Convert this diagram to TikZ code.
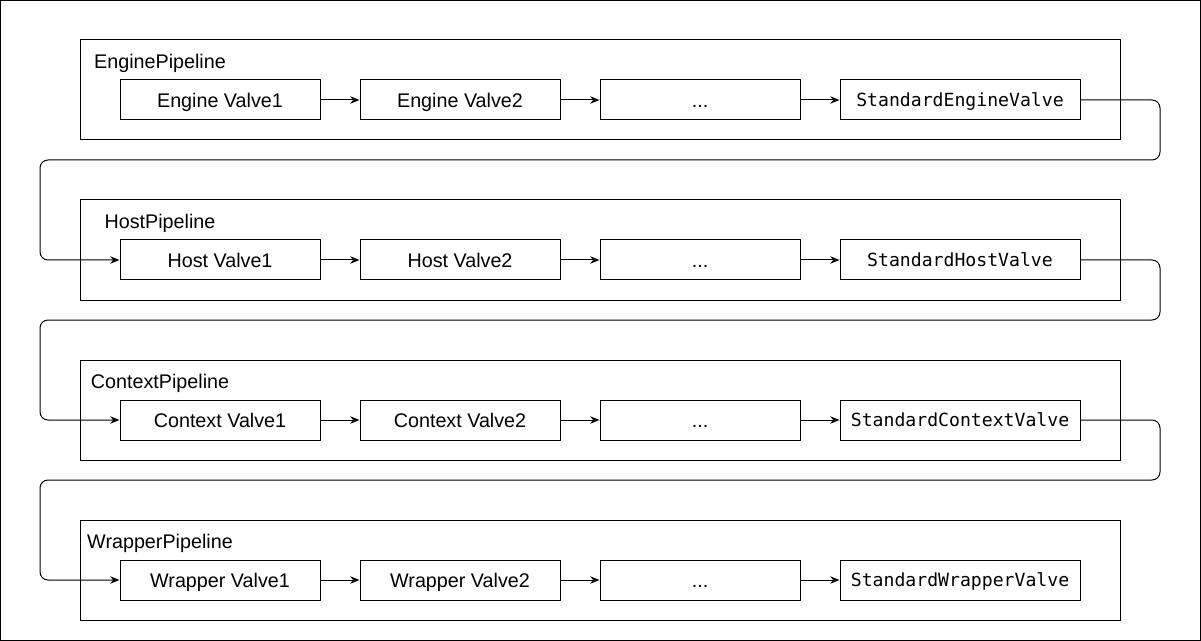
\documentclass[tikz,border=0pt]{standalone}
\usepackage{fontspec}
\setmainfont{Liberation Sans}
\setmonofont{DejaVu Sans Mono}
\usetikzlibrary{arrows.meta}

\begin{document}
\begin{tikzpicture}[x=0.75pt,y=-0.75pt,line width=0.75pt,>={Stealth[length=7pt,width=5.5pt]},
  pipe/.style ={rectangle, draw, minimum width=780pt, minimum height=75pt, inner sep=0pt},
  valve/.style ={rectangle, draw, fill=white, minimum width=150pt, minimum height=30pt, inner sep=0pt, text height=10.6pt, text depth=0pt, font=\fontsize{14.8}{16}\selectfont},
  stdvalve/.style ={valve, minimum width=180pt, text height=9.9pt, font=\fontsize{13.6}{16}\selectfont\ttfamily},
  lbl/.style ={font=\fontsize{14.8}{16}\selectfont, inner sep=0pt, text height=10.6pt, text depth=0pt}]
\useasboundingbox (0,0) rectangle (1201,641);
\draw (0.5,0.5) rectangle (1200.5,640.5);
% pipelines
\draw (600,90) node[pipe] (EngPipe) {};
\draw (600,250) node[pipe] (HostPipe) {};
\draw (600,410) node[pipe] (CtxPipe) {};
\draw (600,570) node[pipe] (WrapPipe) {};
\draw (160,61) node[lbl] (EngLbl) {EnginePipeline};
\draw (160,221) node[lbl] (HostLbl) {HostPipeline};
\draw (160,381) node[lbl] (CtxLbl) {ContextPipeline};
\draw (160,541) node[lbl] (WrapLbl) {WrapperPipeline};
% engine
\draw (220,100) node[valve] (EngV1) {Engine Valve1};
\draw (460,100) node[valve] (EngV2) {Engine Valve2};
\draw (700,100) node[valve] (EngDots) {...};
\draw (960,100) node[stdvalve] (EngStd) {StandardEngineValve};
% host
\draw (220,260) node[valve] (HostV1) {Host Valve1};
\draw (460,260) node[valve] (HostV2) {Host Valve2};
\draw (700,260) node[valve] (HostDots) {...};
\draw (960,260) node[stdvalve] (HostStd) {StandardHostValve};
% context
\draw (220,420) node[valve] (CtxV1) {Context Valve1};
\draw (460,420) node[valve] (CtxV2) {Context Valve2};
\draw (700,420) node[valve] (CtxDots) {...};
\draw (960,420) node[stdvalve] (CtxStd) {StandardContextValve};
% wrapper
\draw (220,580) node[valve] (WrapV1) {Wrapper Valve1};
\draw (460,580) node[valve] (WrapV2) {Wrapper Valve2};
\draw (700,580) node[valve] (WrapDots) {...};
\draw (960,580) node[stdvalve] (WrapStd) {StandardWrapperValve};

\draw [->] (EngV1) -- (EngV2);
\draw [->] (EngV2) -- (EngDots);
\draw [->] (EngDots) -- (EngStd);
\draw [->] (HostV1) -- (HostV2);
\draw [->] (HostV2) -- (HostDots);
\draw [->] (HostDots) -- (HostStd);
\draw [->] (CtxV1) -- (CtxV2);
\draw [->] (CtxV2) -- (CtxDots);
\draw [->] (CtxDots) -- (CtxStd);
\draw [->] (WrapV1) -- (WrapV2);
\draw [->] (WrapV2) -- (WrapDots);
\draw [->] (WrapDots) -- (WrapStd);

% links between pipelines
\draw [->, rounded corners=6pt] (EngStd.east) -- (1160,100) |- (40,160) |- (HostV1.west);
\draw [->, rounded corners=6pt] (HostStd.east) -- (1160,260) |- (40,320) |- (CtxV1.west);
\draw [->, rounded corners=6pt] (CtxStd.east) -- (1160,420) |- (40,480) |- (WrapV1.west);

\end{tikzpicture}
\end{document}
